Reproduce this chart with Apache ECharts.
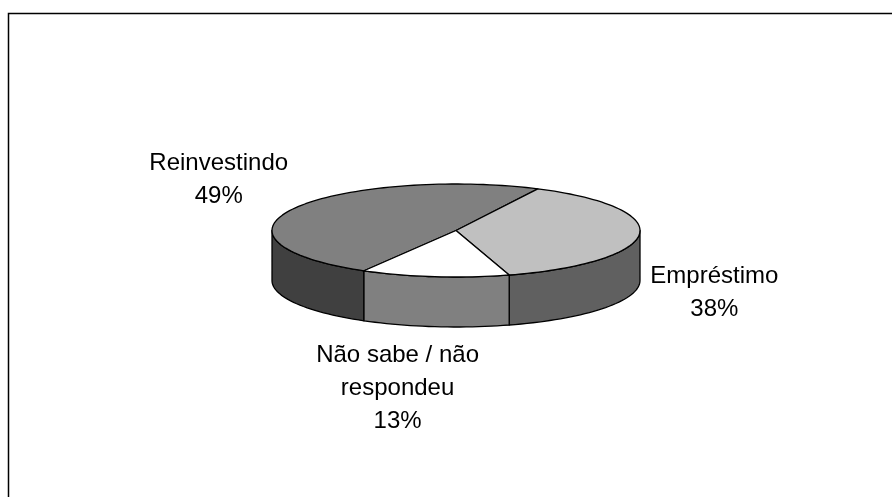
<!DOCTYPE html>
<html>
<head>
<meta charset="utf-8">
<title>Pizza 3D</title>
<script src="https://cdn.jsdelivr.net/npm/echarts@6/dist/echarts.min.js"></script>
<style>
  html, body { margin: 0; padding: 0; background: #fff; }
  #chart { width: 892px; height: 497px; }
</style>
</head>
<body>
<div id="chart"></div>
<script>
// dados
const categories = ['Reinvestindo', 'Empréstimo', 'Não sabe / não\nrespondeu'];
const values = [49, 38, 13];

// cores (topo e lateral de cada fatia)
const topColors = ['#808080', '#c0c0c0', '#ffffff'];
const sideColors = ['#404040', '#606060', '#808080'];

// geometria da pizza "3D"
const cx = 456, cy = 230.5;
const rx = 184, ry = 46.5;
const depth = 50;
const startAngle = 240; // graus, sentido horário
const fontSize = 24, lineHeight = 33;
const fontFamily = '"Liberation Sans", Arial, sans-serif';
// ajuste fino dos rótulos (dx, dy) em relação à posição calculada
const labelNudge = [[4, 6], [0, 8], [-36, 9]];

const total = values.reduce((a, b) => a + b, 0);
const rad = d => d * Math.PI / 180;

function arcPoints(a, b, yOff) {
  const n = Math.max(2, Math.ceil(Math.abs(b - a) / 2));
  const pts = [];
  for (let i = 0; i <= n; i++) {
    const t = rad(a + (b - a) * i / n);
    pts.push([cx + rx * Math.cos(t), cy + yOff - ry * Math.sin(t)]);
  }
  return pts;
}

// medir texto para posicionar o rótulo
const ctx = document.createElement('canvas').getContext('2d');
ctx.font = fontSize + 'px ' + fontFamily;
function textWidth(lines) {
  return Math.max(...lines.map(l => ctx.measureText(l).width));
}

function renderItem(params, api) {
  const i = params.dataIndex;
  let before = 0;
  for (let k = 0; k < i; k++) before += values[k];
  const a0 = startAngle - before / total * 360;
  const a1 = a0 - api.value(0) / total * 360;
  const children = [];
  const line = { stroke: '#000', lineWidth: 1.3, lineJoin: 'round' };

  // lateral visível (metade da frente)
  for (let k = -1; k <= 1; k++) {
    const lo = Math.max(a1, 180 + 360 * k);
    const hi = Math.min(a0, 360 + 360 * k);
    if (lo < hi) {
      const pts = arcPoints(hi, lo, 0).concat(arcPoints(lo, hi, depth));
      children.push({
        type: 'polygon', z2: 1,
        shape: { points: pts },
        style: Object.assign({ fill: sideColors[i] }, line)
      });
    }
  }

  // topo
  children.push({
    type: 'polygon', z2: 10,
    shape: { points: [[cx, cy]].concat(arcPoints(a0, a1, 0)) },
    style: Object.assign({ fill: topColors[i] }, line)
  });

  // rótulo
  const mid = rad((a0 + a1) / 2);
  const c = Math.cos(mid), s = Math.sin(mid);
  const pct = Math.round(api.value(0) / total * 100) + '%';
  const lines = categories[i].split('\n').concat([pct]);
  const w = textWidth(lines), h = lines.length * lineHeight;
  let ax = cx + rx * 1.06 * c;
  let ay = cy - ry * 1.06 * s + (s < 0 ? depth : 0);
  if (c > 0.35) ax += w / 2; else if (c < -0.35) ax -= w / 2;
  if (s > 0.35) ay -= h / 2; else if (s < -0.35) ay += h / 2;
  children.push({
    type: 'text', z2: 20,
    style: {
      text: lines.join('\n'),
      x: ax + labelNudge[i][0], y: ay + labelNudge[i][1],
      align: 'center', verticalAlign: 'middle',
      fontSize: fontSize, fontFamily: fontFamily,
      lineHeight: lineHeight, fill: '#000'
    }
  });

  return { type: 'group', children: children };
}

const chart = echarts.init(document.getElementById('chart'), null, { renderer: 'canvas' });
chart.setOption({
  backgroundColor: '#fff',
  animation: false,
  graphic: [{
    type: 'rect', z: -1,
    shape: { x: 8.5, y: 13.5, width: 1000, height: 1000 },
    style: { fill: 'none', stroke: '#000', lineWidth: 1.5 }
  }],
  series: [{
    type: 'custom',
    coordinateSystem: 'none',
    renderItem: renderItem,
    data: values.map(v => [v])
  }]
});
</script>
</body>
</html>
